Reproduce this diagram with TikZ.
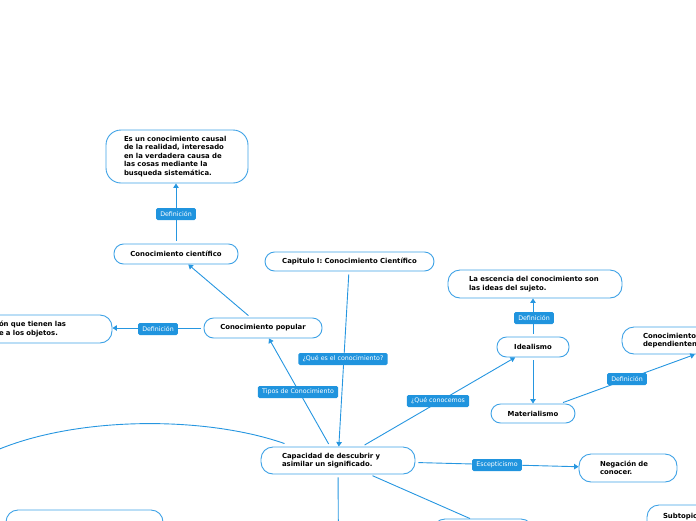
\documentclass[tikz,border=0pt]{standalone}
\usepackage{fontspec}
\setmainfont{DejaVu Sans}
\usetikzlibrary{arrows.meta,calc}
\definecolor{nodeblue}{RGB}{62,162,230}
\definecolor{lineblue}{RGB}{38,150,224}
\definecolor{labfill}{RGB}{32,148,222}
\tikzset{
  topic/.style={draw=nodeblue, line width=0.9pt, fill=white, inner ysep=0pt,
    font=\fontsize{6.9}{8.5}\selectfont\bfseries},
  pill/.style={topic, rounded corners=9.5pt, align=center, inner xsep=0pt},
  multibox/.style={topic, rounded corners=12pt, align=left},
  lab/.style={fill=labfill, text=white, rounded corners=1.5pt, inner xsep=4.2pt,
    inner ysep=0pt, minimum height=12pt, font=\fontsize{6.3}{7}\selectfont},
  conn/.style={draw=lineblue, line width=0.9pt, shorten <=3pt},
  arr/.style={-{Triangle[length=4.5pt,width=5.5pt]}}
}
\begin{document}
\begin{tikzpicture}[x=1pt,y=-1pt]
\useasboundingbox (0,0) rectangle (696,520);
\clip (0,0) rectangle (696,520);
% topics
\node[multibox, rounded corners=15pt, text width=106pt, inner xsep=18pt, minimum height=53pt] (def1) at (177,156.5)
  {\mbox{Es un conocimiento causal}\\\mbox{de la realidad, interesado}\\\mbox{en la verdadera causa de}\\\mbox{las cosas mediante la}\\\mbox{busqueda sistemática.}};
\node[pill, minimum width=124pt, minimum height=20pt] (cient) at (176,254) {Conocimiento científico};
\node[pill, minimum width=169pt, minimum height=19pt] (cap) at (349.5,261.5) {Capitulo I: Conocimiento Científico};
\node[pill, minimum width=118pt, minimum height=20pt] (popular) at (263,328) {Conocimiento popular};
\node[multibox, text width=84pt, inner xsep=29pt, minimum height=28pt] (leftbox) at (41,329)
  {\mbox{ón que tienen las}\\\mbox{e a los objetos.}};
\node[multibox, text width=112pt, inner xsep=21pt, minimum height=27pt] (central) at (338,460.5)
  {\mbox{Capacidad de descubrir y}\\\mbox{asimilar un significado.}};
\node[multibox, text width=132pt, inner xsep=21pt, minimum height=28pt] (escen) at (535,284)
  {\mbox{La escencia del conocimiento son}\\\mbox{las ideas del sujeto.}};
\node[pill, minimum width=72pt, minimum height=20pt] (ideal) at (533,347) {Idealismo};
\node[pill, minimum width=84pt, minimum height=19pt] (mater) at (533,413.5) {Materialismo};
\node[multibox, text width=180pt, inner xsep=21pt, minimum height=27pt] (condep) at (733,340.5)
  {\mbox{Conocimiento}\\\mbox{dependienten}};
\node[multibox, text width=56pt, inner xsep=21pt, minimum height=28pt] (neg) at (628,468)
  {\mbox{Negación de}\\\mbox{conocer.}};
\node[multibox, text width=48pt, inner xsep=16pt, minimum height=28pt] (subt) at (687,519)
  {\mbox{Subtopic}\\[-3pt]\mbox{}};
\node[multibox, minimum width=157pt, minimum height=28pt] (blbox) at (84.5,524) {};
\node[multibox, minimum width=100pt, minimum height=28pt] (brbox) at (483,533) {};
\coordinate (down) at (338.5,560);
\coordinate (leftend) at (-20,458);
% connectors
\draw[conn,arr] (cient.north) -- (cient.north |- def1.south);
\draw[conn,arr] (popular) -- (cient);
\draw[conn,arr] (popular.west) -- (popular.west -| leftbox.east);
\draw[conn,arr] (cap) -- (central);
\draw[conn,arr] (central) -- (popular);
\draw[conn,arr] (central) -- (ideal);
\draw[conn,arr] (ideal.north) -- (ideal.north |- escen.south);
\draw[conn,arr] (ideal) -- (mater);
\draw[conn,arr] (mater) -- (condep);
\draw[conn,arr] (central) -- (neg);
\draw[conn] (central) -- (down);
\draw[conn] (central) -- ($(brbox.north)+(-13,0)$);
\draw[conn, shorten <=0pt] ($(central.north west)+(24,-3)$) .. controls (200,414) and (60,416) .. (leftend);
% labels
\node[lab] (l1) at (176,214) {Definición};
\node[lab] (l2) at (158,329) {Definición};
\node[lab] (l3) at (343,359) {¿Qué es el conocimiento?};
\node[lab] (l4) at (298,392) {Tipos de Conocimiento};
\node[lab] (l5) at (438,401) {¿Qué conocemos};
\node[lab] (l6) at (534,318) {Definición};
\node[lab] (l7) at (627,379) {Definición};
\node[lab] (l8) at (497,465) {Escepticismo};
\end{tikzpicture}
\end{document}
